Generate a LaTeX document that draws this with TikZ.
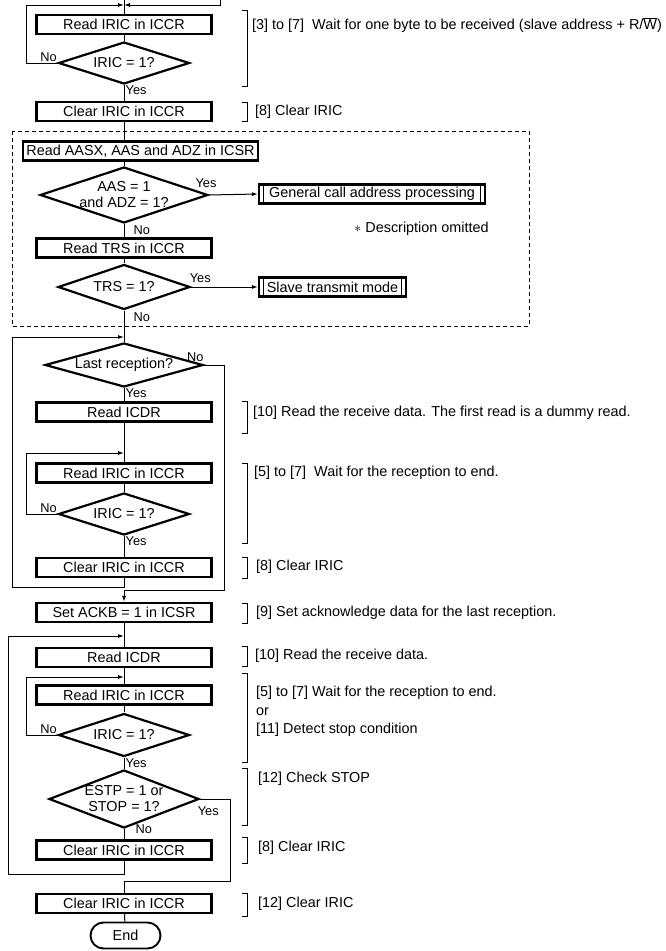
\documentclass[tikz,border=0pt]{standalone}
\usepackage{fontspec}
\setmainfont{Liberation Sans}
\usetikzlibrary{arrows.meta,shapes.geometric,shapes.misc}
\tikzset{
  base/.style={font=\fontsize{14.4}{16}\selectfont, align=center, inner sep=0pt, text=black},
  box/.style={base, rectangle, draw, line width=2.2pt, minimum width=175, minimum height=19},
  sub/.style={box, path picture={
      \draw[line width=0.9pt] ([xshift=4.5pt]path picture bounding box.north west) -- ([xshift=4.5pt]path picture bounding box.south west);
      \draw[line width=0.9pt] ([xshift=-4.5pt]path picture bounding box.north east) -- ([xshift=-4.5pt]path picture bounding box.south east);}},
  dec/.style={base, diamond, draw, line width=2.2pt, aspect=3.5},
  term/.style={base, rounded rectangle, draw, line width=1.9pt, minimum width=70, minimum height=26},
  lbl/.style={font=\fontsize{12.8}{14}\selectfont, inner sep=0.5pt},
  note/.style={base, anchor=west, align=left},
  line/.style={line width=1pt},
  arr/.style={line, -{Latex[length=6pt,width=4pt]}},
  brk/.style={line width=0.9pt},
  frame/.style={line width=0.9pt, dash pattern=on 4pt off 3pt},
}

\begin{document}
\begin{tikzpicture}[x=1pt,y=-1pt]
  \useasboundingbox (0,0) rectangle (665,951);
  % entry from the previous stage
  \coordinate (in) at (124,0);
  \coordinate (back) at (220,0);
  \coordinate (j0) at (124,5);
  \node[box] (r1) at (124,24.5) {Read IRIC in ICCR};
  \node[dec,minimum width=131,minimum height=42] (d1) at (124,63) {IRIC = 1?};
  \node[box] (c1) at (124,111.5) {Clear IRIC in ICCR};
  % address check
  \draw[frame] (12,131) rectangle (529,326);
  \node[box,minimum width=235] (r2) at (140.5,151) {Read AASX, AAS and ADZ in ICSR};
  \node[dec,minimum width=166,minimum height=55,aspect=3] (d2) at (124,195) {AAS = 1\\and ADZ = 1?};
  \node[sub,minimum width=226] (gc) at (372,194) {General call address processing};
  \node[note] (om) at (354,229) {$\ast$ Description omitted};
  \node[box] (r3) at (124,248) {Read TRS in ICCR};
  \node[dec,minimum width=132,minimum height=45] (d3) at (124,287) {TRS = 1?};
  \node[sub,minimum width=147] (st) at (332.5,287) {Slave transmit mode};
  % receive loop
  \coordinate (j1) at (124,337);
  \node[dec,minimum width=158,minimum height=44] (d4) at (124,365) {Last reception?};
  \node[box] (r4) at (124,412) {Read ICDR};
  \coordinate (j2) at (124,453);
  \node[box] (r5) at (124,473) {Read IRIC in ICCR};
  \node[dec,minimum width=131,minimum height=42] (d5) at (124,514) {IRIC = 1?};
  \node[box] (c2) at (124,567.5) {Clear IRIC in ICCR};
  % last byte
  \node[box] (s1) at (124,612.5) {Set ACKB = 1 in ICSR};
  \coordinate (j3) at (124,636);
  \node[box] (r6) at (124,657.5) {Read ICDR};
  \coordinate (j4) at (124,677);
  \node[box] (r7) at (124,695) {Read IRIC in ICCR};
  \node[dec,minimum width=131,minimum height=43] (d6) at (124,735) {IRIC = 1?};
  \node[dec,minimum width=150,minimum height=58,aspect=2.6] (d7) at (124,799) {ESTP = 1 or\\STOP = 1?};
  \node[box] (c3) at (124,850) {Clear IRIC in ICCR};
  \node[box] (c4) at (124,903.5) {Clear IRIC in ICCR};
  \node[term] (end) at (125.5,935.5) {End};

  % straight flow
  \draw[line] (in) -- (r1);
  \foreach \a/\b in {r1/d1,d1/c1,d2/r3,r3/d3,d3/d4,d4/r4,r4/r5,r5/d5,d5/c2,s1/r6,r6/r7,r7/d6,d6/d7,d7/c3,c4/end}{\draw[line] (\a) -- (\b);}
  \draw[line] (c1.south) -- (c1.south |- r2.north);
  \draw[line] (r2.south -| d2.north) -- (d2.north);
  \draw[arr] (d2.east) -- (gc.west);
  \draw[arr] (d3.east) -- (st.west);
  % loops back
  \draw[arr] (back) |- (j0);
  \draw[arr] (d1.west) -- ++(-31,0) |- (j0);
  \draw[arr] (c2.south) -- ++(0,9) -| ([xshift=-112pt]j1) -- (j1);
  \draw[arr] (d5.west) -- ++(-31,0) |- (j2);
  \draw[arr] (d6.west) -- ++(-31,0) |- (j4);
  \draw[arr] (c3.south) -- ++(0,14) -| ([xshift=-116pt]j3) -- (j3);
  \draw[arr] (d4.east) -- ++(20,0) |- ([yshift=11pt]s1.north) -- (s1.north);
  \draw[line] (d7.east) -- ++(30,0) |- ([yshift=11pt]c4.north) -- (c4.north);

  % branch labels
  \node[lbl,anchor=south east] (n1) at ([yshift=1pt]d1.west) {No};
  \node[lbl,anchor=north west] (y1) at ([xshift=1pt]d1.south) {Yes};
  \node[lbl,anchor=south] (y2) at ([xshift=-3pt,yshift=7pt]d2.east) {Yes};
  \node[lbl,anchor=north west] (n2) at ([xshift=9pt,yshift=-1pt]d2.south) {No};
  \node[lbl,anchor=south west] (y3) at ([xshift=-2pt,yshift=4pt]d3.east) {Yes};
  \node[lbl,anchor=north west] (n3) at ([xshift=9pt,yshift=-1pt]d3.south) {No};
  \node[lbl,anchor=south east] (n4) at ([yshift=3pt]d4.east) {No};
  \node[lbl,anchor=north west] (y4) at ([xshift=1pt]d4.south) {Yes};
  \node[lbl,anchor=south east] (n5) at ([yshift=1pt]d5.west) {No};
  \node[lbl,anchor=north west] (y5) at ([xshift=1pt]d5.south) {Yes};
  \node[lbl,anchor=south east] (n6) at ([yshift=1pt]d6.west) {No};
  \node[lbl,anchor=north west] (y6) at ([xshift=1pt]d6.south) {Yes};
  \node[lbl,anchor=north west] (y7) at ([xshift=-3pt,yshift=-7pt]d7.east) {Yes};
  \node[lbl,anchor=north west] (n7) at ([xshift=11pt,yshift=5pt]d7.south) {No};

  % step brackets
  \foreach \ya/\yb in {10/86,102/121,401/433,463/543,557/578,603/623,646/666,673/762,768/825,837/863,893/916}{
    \draw[brk] (242,\ya) -- (247.5,\ya) -- (247.5,\yb) -- (242,\yb);}
  \node[note] (t1) at (252,25) {[3] to [7]\ \ Wait for one byte to be received (slave address + R/$\overline{\mbox{W}}$)};
  \node[note] (t2) at (255,112) {[8] Clear IRIC};
  \node[note] (t3) at (253,413) {[10] Read the receive data. The first read is a dummy read.};
  \node[note] (t4) at (254,473) {[5] to [7]\ \ Wait for the reception to end.};
  \node[note] (t5) at (256,567) {[8] Clear IRIC};
  \node[note] (t6) at (256,613) {[9] Set acknowledge data for the last reception.};
  \node[note] (t7) at (255,656) {[10] Read the receive data.};
  \node[note,anchor=north west,font=\fontsize{14.4}{18.5}\selectfont] (t8) at (256,686) {[5] to [7] Wait for the reception to end.\\or\\{[11]} Detect stop condition};
  \node[note] (t9) at (258,779) {[12] Check STOP};
  \node[note] (t10) at (258,848) {[8] Clear IRIC};
  \node[note] (t11) at (258,904) {[12] Clear IRIC};
\end{tikzpicture}
\end{document}
